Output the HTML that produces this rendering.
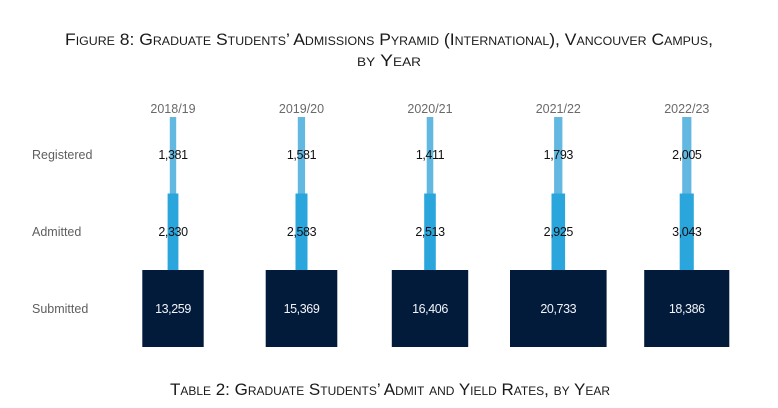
<!DOCTYPE html>
<html>
<head>
<meta charset="utf-8">
<style>
html,body{margin:0;padding:0;background:#fff;}
svg{display:block;}
text{font-family:"Liberation Sans",sans-serif;}
.sc{font-variant:small-caps;fill:#1a1a1a;}
.yr{font-size:12.5px;fill:#6a6a6a;text-anchor:middle;}
.rl{font-size:12.5px;fill:#5f5f5f;}
.nb{font-size:12.5px;fill:#111;text-anchor:middle;letter-spacing:-0.4px;}
.nw{font-size:12.5px;fill:#f2f4f8;text-anchor:middle;letter-spacing:-0.4px;}
</style>
</head>
<body>
<svg width="778" height="408" viewBox="0 0 778 408" xmlns="http://www.w3.org/2000/svg">
<rect width="778" height="408" fill="#fff"/>
<text class="sc" x="65" y="45" font-size="17" textLength="648" lengthAdjust="spacingAndGlyphs">Figure 8: Graduate Students’ Admissions Pyramid (International), Vancouver Campus,</text>
<text class="sc" x="357" y="66" font-size="17" textLength="64" lengthAdjust="spacingAndGlyphs">by Year</text>

<text class="rl" x="32" y="159">Registered</text>
<text class="rl" x="32" y="236">Admitted</text>
<text class="rl" x="32" y="313">Submitted</text>

<!-- 2018/19 center 173 -->
<text class="yr" x="173" y="113">2018/19</text>
<rect x="169.8" y="117" width="6.4" height="78" fill="#62b8e0"/>
<rect x="167.6" y="193.5" width="10.8" height="77" fill="#2aa6dd"/>
<rect x="142.3" y="270" width="61.4" height="77" fill="#031b3b"/>
<text class="nb" x="173" y="159">1,381</text>
<text class="nb" x="173" y="236">2,330</text>
<text class="nw" x="173" y="313">13,259</text>

<!-- 2019/20 center 301.5 -->
<text class="yr" x="301.5" y="113">2019/20</text>
<rect x="297.8" y="117" width="7.3" height="78" fill="#62b8e0"/>
<rect x="295.5" y="193.5" width="12" height="77" fill="#2aa6dd"/>
<rect x="265.7" y="270" width="71.6" height="77" fill="#031b3b"/>
<text class="nb" x="301.5" y="159">1,581</text>
<text class="nb" x="301.5" y="236">2,583</text>
<text class="nw" x="301.5" y="313">15,369</text>

<!-- 2020/21 center 430 -->
<text class="yr" x="430" y="113">2020/21</text>
<rect x="426.7" y="117" width="6.6" height="78" fill="#62b8e0"/>
<rect x="424.2" y="193.5" width="11.6" height="77" fill="#2aa6dd"/>
<rect x="391.8" y="270" width="76.4" height="77" fill="#031b3b"/>
<text class="nb" x="430" y="159">1,411</text>
<text class="nb" x="430" y="236">2,513</text>
<text class="nw" x="430" y="313">16,406</text>

<!-- 2021/22 center 558.3 -->
<text class="yr" x="558.3" y="113">2021/22</text>
<rect x="554.1" y="117" width="8.3" height="78" fill="#62b8e0"/>
<rect x="551.5" y="193.5" width="13.6" height="77" fill="#2aa6dd"/>
<rect x="510" y="270" width="96.6" height="77" fill="#031b3b"/>
<text class="nb" x="558.3" y="159">1,793</text>
<text class="nb" x="558.3" y="236">2,925</text>
<text class="nw" x="558.3" y="313">20,733</text>

<!-- 2022/23 center 686.8 -->
<text class="yr" x="686.8" y="113">2022/23</text>
<rect x="682.2" y="117" width="9.2" height="78" fill="#62b8e0"/>
<rect x="679.7" y="193.5" width="14.1" height="77" fill="#2aa6dd"/>
<rect x="644.2" y="270" width="85.1" height="77" fill="#031b3b"/>
<text class="nb" x="686.8" y="159">2,005</text>
<text class="nb" x="686.8" y="236">3,043</text>
<text class="nw" x="686.8" y="313">18,386</text>

<text class="sc" x="170" y="395" font-size="17" textLength="440" lengthAdjust="spacingAndGlyphs">Table 2: Graduate Students’ Admit and Yield Rates, by Year</text>
</svg>
</body>
</html>
